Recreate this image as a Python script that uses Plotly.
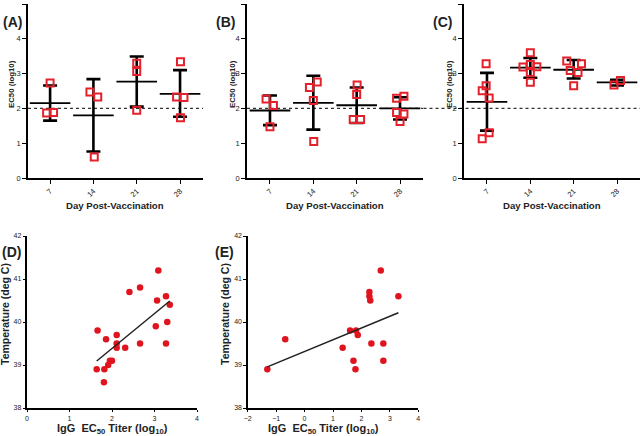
import numpy as np
import plotly.graph_objects as go

# ---------------- data ----------------
days = ["7", "14", "21", "28"]
day_pos = [1, 2, 3, 4]

# Panel A
A_vals = [[2.73, 1.87, 1.88], [2.47, 2.33, 0.60], [3.30, 3.06, 1.95], [3.34, 2.33, 2.31, 1.73]]
A_jit = [[0.0, -0.08, 0.08], [-0.08, 0.10, 0.02], [0.0, 0.0, 0.0], [0.01, -0.08, 0.09, 0.01]]
A_mean = [2.15, 1.80, 2.77, 2.42]
A_low = [1.65, 0.76, 2.05, 1.76]
A_high = [2.66, 2.84, 3.49, 3.10]

# Panel B
B_vals = [[2.27, 2.08, 1.47], [2.60, 2.76, 2.23, 1.05], [2.67, 2.40, 1.68, 1.68], [2.29, 2.35, 1.88, 1.84, 1.62]]
B_jit = [[-0.09, 0.08, 0.0], [-0.09, 0.09, 0.0, 0.01], [0.01, 0.0, -0.08, 0.09], [-0.08, 0.09, -0.08, 0.09, 0.0]]
B_mean = [1.94, 2.16, 2.09, 2.00]
B_low = [1.52, 1.39, 1.58, 1.68]
B_high = [2.37, 2.94, 2.60, 2.32]

# Panel C
C_vals = [[3.28, 2.65, 2.51, 2.30, 1.30, 1.13], [3.60, 3.19, 3.26, 3.20, 3.03, 2.75],
          [3.36, 3.28, 3.09, 3.03, 2.65], [2.67, 2.80]]
C_jit = [[-0.02, -0.02, -0.11, 0.05, 0.05, -0.11], [0.0, -0.17, 0.0, 0.15, 0.0, 0.0],
         [-0.16, 0.18, -0.08, 0.10, 0.0], [-0.07, 0.08]]
C_mean = [2.19, 3.17, 3.11, 2.75]
C_low = [1.36, 2.88, 2.86, 2.66]
C_high = [3.02, 3.45, 3.39, 2.82]

threshold = 2.0

# Panel D
D_x = [1.66, 1.86, 1.64, 1.82, 1.81, 1.91, 1.95, 2.00, 2.11, 2.11, 2.11, 2.31,
       2.41, 2.66, 2.66, 3.09, 3.06, 3.03, 3.27, 3.30, 3.27, 3.36]
D_y = [39.8, 39.6, 38.9, 38.9, 38.6, 39.0, 39.1, 39.1, 39.7, 39.5, 39.4, 39.4,
       40.7, 40.8, 39.5, 41.2, 40.5, 39.9, 40.6, 40.0, 39.5, 40.4]

# Panel E
E_x = [-1.31, -0.68, 1.34, 1.60, 1.81, 1.87, 1.72, 1.79, 2.28, 2.28, 2.31, 2.35,
       2.68, 2.77, 2.77, 3.30]
E_y = [38.9, 39.6, 39.4, 39.8, 39.8, 39.7, 39.1, 38.9, 40.7, 40.6, 40.5, 39.5,
       41.2, 39.5, 39.1, 40.6]

# ---------------- figure ----------------
FONT = "Arial, Liberation Sans, sans-serif"
RED = "#e3212b"
fig = go.Figure()

W, H = 640, 436
def px(x):
    return x / W
def py(y):
    return 1 - y / H

def add_dot_panel(vals, jit, mean, low, high, xa, ya):
    fig.add_trace(go.Scatter(
        x=day_pos, y=mean, mode="markers", xaxis=xa, yaxis=ya,
        marker=dict(symbol="line-ew", size=29, line=dict(width=1.8, color="black"), color="black"),
        error_y=dict(type="data", symmetric=False,
                     array=[h - m for h, m in zip(high, mean)],
                     arrayminus=[m - l for m, l in zip(mean, low)],
                     thickness=2.6, width=7, color="black"),
        hoverinfo="skip"))
    xs, ys = [], []
    for p, v, j in zip(day_pos, vals, jit):
        for vv, jj in zip(v, j):
            xs.append(p + jj)
            ys.append(vv)
    fig.add_trace(go.Scatter(
        x=xs, y=ys, mode="markers", xaxis=xa, yaxis=ya,
        marker=dict(symbol="square-open", size=7, color=RED, line=dict(width=2, color=RED))))

add_dot_panel(A_vals, A_jit, A_mean, A_low, A_high, "x", "y")
add_dot_panel(B_vals, B_jit, B_mean, B_low, B_high, "x2", "y2")
add_dot_panel(C_vals, C_jit, C_mean, C_low, C_high, "x3", "y3")

def add_scatter_panel(xv, yv, xa, ya):
    fig.add_trace(go.Scatter(
        x=xv, y=yv, mode="markers", xaxis=xa, yaxis=ya,
        marker=dict(symbol="circle", size=6.5, color="#e0141e")))
    k, b = np.polyfit(np.array(xv), np.array(yv), 1)
    lx = np.array([min(xv), max(xv)])
    fig.add_trace(go.Scatter(
        x=lx, y=k * lx + b, mode="lines", xaxis=xa, yaxis=ya,
        line=dict(color="#222222", width=1.5)))

add_scatter_panel(D_x, D_y, "x4", "y4")
add_scatter_panel(E_x, E_y, "x5", "y5")

top_y = [py(178), py(4)]
bot_y = [py(408), py(236)]

tickfont_top = dict(family=FONT, size=7.5, color="#222")
tickfont_bot = dict(family=FONT, size=7, color="#222")

common = dict(tickwidth=1.4, tickcolor="black", ticks="outside",
              showline=True, linecolor="black", linewidth=1.6, showgrid=False,
              zeroline=False, automargin=False)

def cat_xaxis(domain, rng, anchor):
    return dict(domain=domain, range=rng, anchor=anchor, tickvals=day_pos, ticktext=days,
                tickangle=-45, tickfont=tickfont_top, ticklen=4, **common)

def ec_yaxis(domain, anchor):
    return dict(domain=domain, range=[0, 5], anchor=anchor, tickvals=[0, 1, 2, 3, 4, 5],
                tickfont=tickfont_top, ticklen=4, **common)

def num_axis(domain, rng, anchor, dtick):
    return dict(domain=domain, range=rng, anchor=anchor, dtick=dtick,
                tickfont=tickfont_bot, ticklen=2.5, **common)

fig.update_layout(
    width=W, height=H, margin=dict(l=0, r=0, t=0, b=0, autoexpand=False),
    paper_bgcolor="white", plot_bgcolor="white", showlegend=False,
    xaxis=cat_xaxis([px(28), px(203)], [0.49, 4.53], "y"),
    yaxis=ec_yaxis(top_y, "x"),
    xaxis2=cat_xaxis([px(247), px(423)], [0.47, 4.53], "y2"),
    yaxis2=ec_yaxis(top_y, "x2"),
    xaxis3=cat_xaxis([px(464), 1.0], [0.47, 4.53], "y3"),
    yaxis3=ec_yaxis(top_y, "x3"),
    xaxis4=num_axis([px(27), px(197)], [0, 4], "y4", 1),
    yaxis4=num_axis(bot_y, [38, 42], "x4", 1),
    xaxis5=num_axis([px(247.7), px(418.3)], [-2, 4], "y5", 1),
    yaxis5=num_axis(bot_y, [38, 42], "x5", 1),
)

# dotted threshold lines
for xr, yr, x0 in [("x domain", "y", 0), ("x2 domain", "y2", 0), ("x3 domain", "y3", -0.23)]:
    fig.add_shape(type="line", xref=xr, yref=yr, x0=x0, x1=1, y0=threshold, y1=threshold,
                  line=dict(color="#333", width=1.4, dash="dot"), layer="below")

def ann(text, x, y, size, angle=0):
    fig.add_annotation(text=text, x=px(x), y=py(y), xref="paper", yref="paper",
                       showarrow=False, textangle=angle, xanchor="center", yanchor="middle",
                       font=dict(family=FONT, size=size, color="#222"))

# panel letters
for t, x, y in [("(A)", 12, 22), ("(B)", 225, 22), ("(C)", 442, 22), ("(D)", 11, 252), ("(E)", 224, 252)]:
    ann("<b>%s</b>" % t, x, y, 14)

# axis titles top
for x in [12, 233, 450]:
    ann("<b>EC50 (log10)</b>", x, 84, 7.8, -90)
for x in [115, 335, 552]:
    ann("<b>Day Post-Vaccination</b>", x, 206, 9.6)

# axis titles bottom
ann("<b>Temperature (deg C)</b>", 5, 314, 10.5, -90)
ann("<b>Temperature (deg C)</b>", 225, 314, 10.5, -90)
ann("<b>IgG  EC<sub>50</sub> Titer (log<sub>10</sub>)</b>", 112, 429, 11)
ann("<b>IgG  EC<sub>50</sub> Titer (log<sub>10</sub>)</b>", 323, 429, 11)

fig.write_html("out.html", config={"displayModeBar": False},
               post_script="document.body.style.margin='0px';")
